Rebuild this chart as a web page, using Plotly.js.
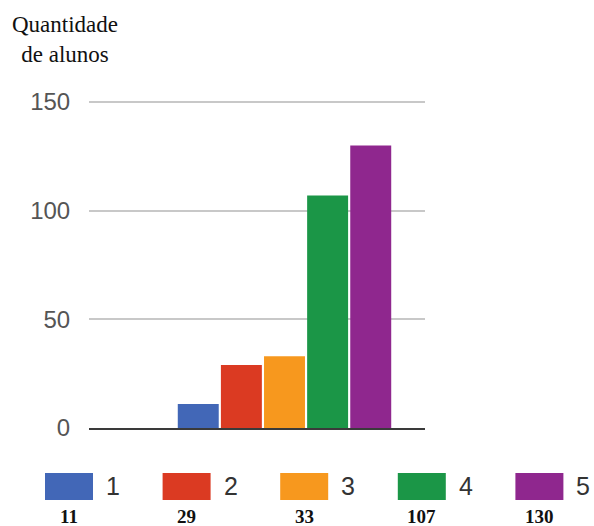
<!DOCTYPE html>
<html>
<head>
<meta charset="utf-8">
<script src="https://cdn.plot.ly/plotly-3.0.1.min.js"></script>
<style>html,body{margin:0;padding:0;background:#fff;}#chart{width:594px;height:526px;}</style>
</head>
<body>
<div id="chart"></div>
<script>
// ---- data ----
const seriesNames = ['1', '2', '3', '4', '5'];
const seriesValues = [11, 29, 33, 107, 130];
const seriesCounts = ['11', '29', '33', '107', '130'];
const seriesColors = ['#4267b7', '#db3a22', '#f7981e', '#1b9647', '#8f278e'];
const category = ['Notas'];
const yTicks = [0, 50, 100, 150];
const yTitleLines = ['Quantidade', 'de alunos'];

// ---- layout constants ----
const W = 594, H = 526;
const M = {l: 89, r: 169, t: 101, b: 98};
const PW = W - M.l - M.r, PH = H - M.t - M.b;
const px = x => (x - M.l) / PW;
const py = y => (H - M.b - y) / PH;

const traces = seriesNames.map((n, i) => ({
  type: 'bar',
  name: n,
  x: category,
  y: [seriesValues[i]],
  marker: {color: seriesColors[i]},
  showlegend: false,
  hoverinfo: 'y'
}));

const shapes = [];
const annotations = [];
const legX0 = 45, legPitch = 117.6, legW = 48, legY0 = 473, legY1 = 500;
seriesNames.forEach((n, i) => {
  const x0 = legX0 + i * legPitch;
  shapes.push({type: 'rect', xref: 'paper', yref: 'paper',
    x0: px(x0), x1: px(x0 + legW), y0: py(legY1), y1: py(legY0),
    fillcolor: seriesColors[i], line: {width: 0}});
  annotations.push({xref: 'paper', yref: 'paper', x: px(x0 + legW + 20), y: py(486),
    text: n, showarrow: false, xanchor: 'center', yanchor: 'middle',
    font: {family: '"Liberation Sans", Arial, sans-serif', size: 25, color: '#333'}});
  annotations.push({xref: 'paper', yref: 'paper', x: px(x0 + legW / 2), y: py(529),
    text: '<b>' + seriesCounts[i] + '</b>', showarrow: false, xanchor: 'center', yanchor: 'bottom',
    font: {family: '"Liberation Serif", "Times New Roman", serif', size: 19, color: '#111'}});
});
annotations.push({xref: 'paper', yref: 'paper', x: px(65), y: py(10),
  text: yTitleLines.join('<br>'), showarrow: false, xanchor: 'center', yanchor: 'top', align: 'center',
  font: {family: '"Liberation Serif", "Times New Roman", serif', size: 23, color: '#111'}});

const layout = {
  width: W, height: H,
  margin: M,
  paper_bgcolor: '#fff', plot_bgcolor: '#fff',
  barmode: 'group', bargap: 0, bargroupgap: 0.05,
  showlegend: false,
  xaxis: {type: 'category', range: [-0.9068, 0.6517], showticklabels: false,
    showgrid: false, zeroline: false, showline: true, linecolor: '#3a3a3a', linewidth: 2, ticks: ''},
  yaxis: {range: [0, 150.5], tickvals: yTicks, ticktext: yTicks.map(String),
    showgrid: true, gridcolor: '#c8c8c8', gridwidth: 2, zeroline: false, showline: false,
    ticks: 'outside', ticklen: 13, tickcolor: 'rgba(0,0,0,0)',
    tickfont: {family: '"Liberation Sans", Arial, sans-serif', size: 24, color: '#555'}},
  shapes: shapes,
  annotations: annotations
};

Plotly.newPlot('chart', traces, layout, {displayModeBar: false, staticPlot: true});
</script>
</body>
</html>
